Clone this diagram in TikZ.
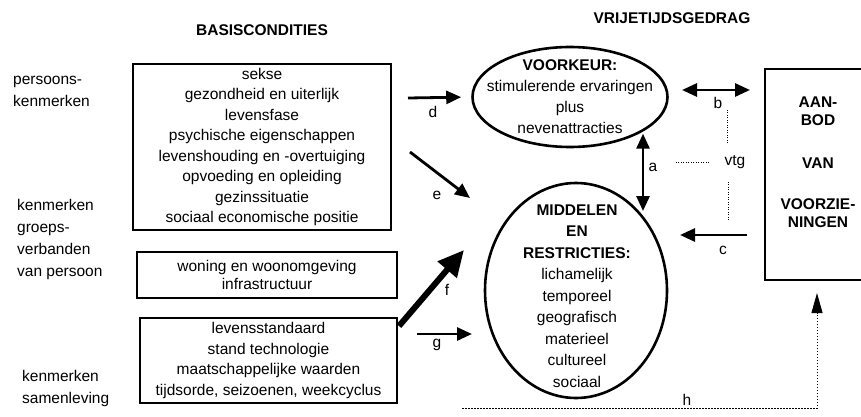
\documentclass[tikz,border=0pt]{standalone}
\usepackage{fontspec}
\setmainfont{Liberation Sans}
\usetikzlibrary{shapes.geometric,arrows.meta}
\newlength{\du}
\setlength{\du}{1pt}
\tikzset{
  kader/.style={draw, line width=2.6\du, inner sep=0pt, align=center},
  ovaal/.style={draw, ellipse, line width=2.6\du, inner sep=0pt},
  tekst/.style={align=center, inner sep=0pt},
  kop/.style={font=\fontsize{15.5}{18}\selectfont\bfseries},
  rand/.style={align=left, anchor=west, inner sep=0pt, font=\fontsize{15.5}{22}\selectfont},
  letter/.style={inner sep=2\du},
  pijl/.style={line width=2.8\du, -{Triangle[length=15pt,width=13pt]}},
  dubbelpijl/.style={line width=2.8\du, {Triangle[length=15pt,width=13pt]}-{Triangle[length=15pt,width=13pt]}},
  dikkepijl/.style={line width=6\du, -{Triangle[length=26pt,width=24pt]}},
  stippel/.style={line width=0.9\du, dash pattern=on 1pt off 1.5pt},
  stippelpijl/.style={line width=1\du, dash pattern=on 1.5pt off 1.5pt, -{Triangle[length=20pt,width=11pt]}},
}

\begin{document}
\begin{tikzpicture}[font=\fontsize{15.5}{20.5}\selectfont]
\pgftransformxscale{1.000000}
\pgftransformyscale{-1.000000}
\useasboundingbox (0\du,0\du) rectangle (861\du,417\du);
\clip (0\du,0\du) rectangle (861\du,417\du);
% koppen
\node[kop] (basis) at (262\du,30\du) {BASISCONDITIES};
\node[kop] (vrije) at (672\du,18\du) {VRIJETIJDSGEDRAG};
% linker kolom
\node[rand] (persoon) at (13\du,91\du) {persoons-\\kenmerken};
\node[rand] (groep) at (17\du,239\du) {kenmerken\\groeps-\\verbanden\\van persoon};
\node[rand] (samen) at (22\du,388\du) {kenmerken\\samenleving};
% basiscondities
\node[kader, minimum width=258\du, minimum height=166\du] (box1) at (262\du,147\du) {sekse\\gezondheid en uiterlijk\\levensfase\\psychische eigenschappen\\levenshouding en -overtuiging\\opvoeding en opleiding\\gezinssituatie\\sociaal economische positie};
\node[kader, minimum width=260\du, minimum height=46\du, font=\fontsize{15.5}{18}\selectfont] (box2) at (267\du,275\du) {woning en woonomgeving\\infrastructuur};
\node[kader, minimum width=257\du, minimum height=85\du] (box3) at (268.5\du,360.5\du) {levensstandaard\\stand technologie\\maatschappelijke waarden\\tijdsorde, seizoenen, weekcyclus};
% vrijetijdsgedrag
\node[ovaal, minimum width=195\du, minimum height=100\du] (voorkeur) at (570\du,97\du) {};
\node[tekst, font=\fontsize{15.5}{21}\selectfont] (voorkeurtekst) at (570\du,97\du) {\textbf{VOORKEUR:}\\stimulerende ervaringen\\plus\\nevenattracties};
\node[ovaal, minimum width=182\du, minimum height=215\du] (middelen) at (576\du,290.5\du) {};
\node[tekst, font=\fontsize{15.5}{21.5}\selectfont] (middelentekst) at (577\du,296\du) {\textbf{MIDDELEN}\\\textbf{EN}\\\textbf{RESTRICTIES:}\\lichamelijk\\temporeel\\geografisch\\materieel\\cultureel\\sociaal};
% aanbod
\node[kader, minimum width=140\du, minimum height=211\du] (aanbod) at (835\du,174.5\du) {};
\node[tekst, kop] (aan) at (818\du,111\du) {AAN-\\BOD};
\node[tekst, kop] (van) at (818\du,163\du) {VAN};
\node[tekst, kop] (voorz) at (818\du,213\du) {VOORZIE-\\NINGEN};
% eindpunten
\coordinate (d0) at (408\du,98\du);
\coordinate (e0) at (410\du,152\du);
\coordinate (e1) at (470\du,198\du);
\coordinate (f0) at (399\du,326\du);
\coordinate (f1) at (464\du,250\du);
\coordinate (g0) at (417\du,334\du);
\coordinate (g1) at (472\du,334\du);
\coordinate (a1) at (643\du,211\du);
\coordinate (b0) at (682\du,90\du);
\coordinate (b1) at (750\du,90\du);
\coordinate (c0) at (747\du,235\du);
\coordinate (c1) at (680\du,235\du);
\coordinate (h0) at (462\du,408\du);
\coordinate (h1) at (817\du,293\du);
% pijlen
\draw[pijl, shorten >=10pt] (d0) -- (voorkeur.west);
\draw[pijl] (e0) -- (e1);
\draw[dikkepijl] (f0) -- (f1);
\draw[pijl] (g0) -- (g1);
\draw[dubbelpijl] (a1 |- voorkeur.-28) -- (a1);
\draw[dubbelpijl] (b0) -- (b1);
\draw[pijl] (c0) -- (c1);
\draw[stippelpijl] (h0) -- (h0 -| h1) -- (h1);
% letters
\node[letter] (ld) at (433\du,112\du) {d};
\node[letter] (le) at (437\du,195\du) {e};
\node[letter] (lf) at (447\du,290\du) {f};
\node[letter] (lg) at (437\du,345\du) {g};
\node[letter] (la) at (653\du,167\du) {a};
\node[letter] (lb) at (718\du,103\du) {b};
\node[letter] (lc) at (723\du,250\du) {c};
\node[letter] (lh) at (687\du,400\du) {h};
\node[letter] (vtg) at (735\du,162\du) {vtg};
\draw[stippel] ([xshift=-8\du]vtg.north) ++(0,-10\du) -- ++(0,-35\du);
\draw[stippel] (vtg.west) ++(-13\du,0) -- ++(-35\du,0);
\draw[stippel] ([xshift=-7\du]vtg.south) ++(0,11\du) -- ++(0,40\du);
\end{tikzpicture}
\end{document}
